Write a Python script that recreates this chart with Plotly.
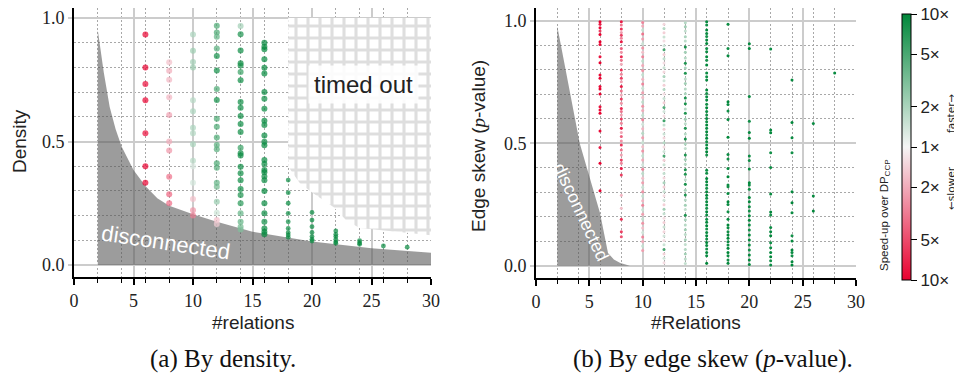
import math
import plotly.graph_objects as go

W, H = 962, 380
OFF = 8                      # page body margin of the browser
FW, FH = W - OFF, H - OFF    # figure size inside the page

# ---------------- data ----------------
REL_X = [6, 8, 10, 12, 14, 16, 18, 20, 22, 24, 26, 28]

# (a) density per #relations column
a_density = {
    6: [0.933, 0.800, 0.733, 0.667, 0.533, 0.400, 0.333],
    8: [0.821, 0.786, 0.750, 0.679, 0.607, 0.500, 0.464, 0.357, 0.286, 0.250],
    10: [0.933, 0.867, 0.822, 0.800, 0.667, 0.622, 0.556, 0.533, 0.489, 0.422,
         0.400, 0.333, 0.267, 0.222, 0.200],
    12: [0.969, 0.941, 0.924, 0.877, 0.846, 0.787, 0.713, 0.668, 0.592, 0.560,
         0.516, 0.486, 0.469, 0.412, 0.394, 0.333, 0.317, 0.256, 0.212, 0.182,
         0.166],
    14: [0.968, 0.934, 0.868, 0.817, 0.808, 0.781, 0.748, 0.660, 0.637, 0.603,
         0.571, 0.538, 0.475, 0.452, 0.443, 0.398, 0.371, 0.343, 0.308, 0.283,
         0.250, 0.209, 0.175, 0.155, 0.144],
    16: [0.900, 0.884, 0.873, 0.833, 0.799, 0.775, 0.700, 0.673, 0.633, 0.584,
         0.567, 0.524, 0.499, 0.485, 0.425, 0.409, 0.385, 0.375, 0.358, 0.343,
         0.300, 0.250, 0.209, 0.175, 0.148, 0.135, 0.124],
    18: [0.344, 0.293, 0.250, 0.209, 0.175, 0.148, 0.131, 0.121, 0.112],
    20: [0.213, 0.182, 0.155, 0.132, 0.115, 0.104, 0.097],
    22: [0.138, 0.124, 0.115, 0.104, 0.094, 0.088],
    24: [0.099, 0.090, 0.084],
    26: [0.077],
    28: [0.072],
}
# speed-up over DP_CCP (factor, <1 = slower)
a_speedup = {
    6: [0.10, 0.10, 0.11, 0.10, 0.11, 0.10, 0.10],
    8: [0.60, 0.50, 0.55, 0.55, 0.45, 0.50, 0.40, 0.28, 0.25, 0.27],
    10: [2.0, 2.3, 2.2, 2.3, 1.8, 2.0, 2.0, 1.9, 2.1, 1.8,
         1.3, 1.4, 0.6, 0.4, 0.33],
    12: [5.0, 5.0, 4.0, 4.5, 8.5, 8.5, 5.0, 8.5, 5.0, 5.0,
         5.0, 4.5, 4.5, 5.0, 4.5, 4.0, 3.5, 2.5, 1.5, 0.6, 0.7],
    14: [2.2, 8.0, 9.0, 9.0, 8.0, 6.0, 9.0, 9.0, 9.0, 9.0,
         9.0, 9.0, 6.0, 9.0, 9.0, 9.0, 9.0, 9.0, 9.0, 8.0,
         7.0, 4.0, 4.0, 3.5, 3.0],
    16: [9.5, 9.0, 10.0, 9.5, 9.5, 10.0, 9.5, 9.0, 9.5, 10.0,
         9.5, 9.5, 9.0, 10.0, 9.5, 9.5, 10.0, 9.5, 9.0, 9.5,
         10.0, 9.5, 9.5, 9.0, 10.0, 9.5, 9.5],
    18: [9.0, 9.5, 10.0, 9.5, 9.0, 9.5, 10.0, 9.5, 9.5],
    20: [9.5, 10.0, 9.5, 9.5, 10.0, 9.5, 9.0],
    22: [9.5, 9.5, 10.0, 9.5, 9.5, 10.0],
    24: [9.5, 9.5, 10.0],
    26: [9.5],
    28: [9.5],
}

# (b) edge skew p-value per #relations column
b_pvalue = {
    6: [0.996, 0.985, 0.971, 0.958, 0.944, 0.914, 0.903, 0.853, 0.828, 0.778,
        0.765, 0.731, 0.721, 0.701, 0.649, 0.635, 0.622, 0.550, 0.482, 0.418,
        0.306],
    8: [0.996, 0.982, 0.966, 0.952, 0.941, 0.928, 0.914, 0.887, 0.871, 0.853,
        0.839, 0.822, 0.799, 0.781, 0.765, 0.751, 0.731, 0.713, 0.697, 0.680,
        0.663, 0.642, 0.629, 0.615, 0.599, 0.581, 0.561, 0.544, 0.527, 0.509,
        0.493, 0.472, 0.452, 0.431, 0.418, 0.397, 0.370, 0.288, 0.234, 0.190,
        0.139, 0.118],
    10: [0.993, 0.978, 0.962, 0.946, 0.925, 0.906, 0.889, 0.871, 0.853, 0.835,
         0.817, 0.797, 0.779, 0.761, 0.742, 0.724, 0.706, 0.687, 0.668, 0.651,
         0.633, 0.614, 0.596, 0.577, 0.559, 0.541, 0.522, 0.503, 0.486, 0.468,
         0.449, 0.431, 0.412, 0.394, 0.376, 0.357, 0.339, 0.320, 0.302, 0.284,
         0.265, 0.247, 0.228, 0.210, 0.191, 0.173, 0.154, 0.136, 0.117, 0.099,
         0.080, 0.062],
    12: [0.985, 0.968, 0.951, 0.933, 0.917, 0.898, 0.881, 0.862, 0.845, 0.827,
         0.808, 0.791, 0.772, 0.755, 0.737, 0.719, 0.701, 0.682, 0.665, 0.646,
         0.629, 0.611, 0.592, 0.574, 0.557, 0.538, 0.521, 0.502, 0.484, 0.466,
         0.448, 0.430, 0.412, 0.393, 0.376, 0.358, 0.339, 0.321, 0.303, 0.285,
         0.267, 0.249, 0.230, 0.212, 0.194, 0.176, 0.158, 0.139, 0.121, 0.103,
         0.085, 0.066, 0.048, 0.030, 0.012],
    14: [0.992, 0.975, 0.958, 0.934, 0.917, 0.893, 0.871, 0.848, 0.826, 0.807,
         0.785, 0.762, 0.744, 0.721, 0.702, 0.684, 0.661, 0.640, 0.622, 0.598,
         0.579, 0.561, 0.538, 0.517, 0.497, 0.478, 0.452, 0.433, 0.414, 0.392,
         0.373, 0.351, 0.332, 0.308, 0.289, 0.268, 0.247, 0.229, 0.206, 0.188,
         0.166, 0.147, 0.127, 0.106, 0.087, 0.066, 0.048, 0.027, 0.009],
    16: [0.996, 0.982, 0.962, 0.948, 0.935, 0.921, 0.907, 0.887, 0.873, 0.853,
         0.839, 0.819, 0.786, 0.771, 0.758, 0.717, 0.703, 0.690, 0.676, 0.659,
         0.645, 0.629, 0.615, 0.601, 0.588, 0.574, 0.561, 0.547, 0.533, 0.520,
         0.506, 0.493, 0.479, 0.465, 0.452, 0.390, 0.377, 0.356, 0.343, 0.329,
         0.316, 0.302, 0.288, 0.275, 0.261, 0.248, 0.234, 0.220, 0.207, 0.190,
         0.177, 0.163, 0.150, 0.136, 0.122, 0.109, 0.095, 0.082, 0.068, 0.054,
         0.041, 0.010],
    18: [0.985, 0.887, 0.857, 0.669, 0.658, 0.631, 0.597, 0.524, 0.454, 0.435,
         0.397, 0.363, 0.329, 0.322, 0.295, 0.261, 0.250, 0.220, 0.190, 0.166,
         0.155, 0.139, 0.125, 0.112, 0.098, 0.084, 0.071, 0.054, 0.041, 0.023,
         0.010],
    20: [0.906, 0.887, 0.691, 0.590, 0.544, 0.520, 0.448, 0.429, 0.395, 0.339,
         0.329, 0.312, 0.278, 0.261, 0.241, 0.223, 0.204, 0.186, 0.166, 0.146,
         0.125, 0.105, 0.084, 0.064, 0.044, 0.023, 0.005],
    22: [0.884, 0.554, 0.543, 0.461, 0.401, 0.293, 0.219, 0.207, 0.156, 0.139,
         0.122, 0.094, 0.073, 0.054, 0.037, 0.020, 0.003],
    24: [0.758, 0.584, 0.522, 0.461, 0.302, 0.257, 0.216, 0.122, 0.101, 0.064,
         0.054, 0.041, 0.016, 0.003],
    26: [0.580, 0.284, 0.223],
    28: [0.786],
}
b_speedup = {
    6: [0.10, 0.13, 0.11, 0.18, 0.10, 0.10, 0.11, 0.12, 0.10, 0.11,
        0.10, 0.11, 0.10, 0.10, 0.12, 0.11, 0.10, 0.11, 0.13, 0.10,
        0.10],
    8: [0.13, 0.30, 0.16, 0.45, 0.18, 0.35, 0.13, 0.25, 0.40, 0.15,
        0.30, 0.50, 0.16, 0.35, 0.18, 0.45, 0.13, 0.30, 0.50, 0.18,
        0.40, 0.15, 0.30, 0.45, 0.18, 0.35, 0.13, 0.50, 0.25, 0.40,
        0.16, 0.30, 0.45, 0.18, 0.35, 0.13, 0.18, 0.55, 0.60, 0.16,
        0.18, 0.22],
    10: [0.35, 0.50, 1.6, 0.30, 0.45, 1.5, 0.40, 0.60, 0.35, 1.7,
         0.50, 0.40, 1.6, 0.55, 0.35, 1.5, 0.45, 0.60, 1.7, 0.40,
         0.50, 1.6, 0.35, 1.4, 0.55, 1.8, 0.45, 1.5, 0.60, 0.40,
         1.6, 0.50, 1.4, 0.35, 1.7, 0.60, 0.45, 1.5, 0.40, 1.6,
         0.55, 0.35, 1.5, 0.45, 1.6, 0.40, 0.60, 1.4, 0.35, 0.50,
         1.6, 0.45],
    12: [0.75, 1.8, 0.70, 1.5, 0.80, 1.4, 5.0, 0.70, 1.6, 0.80,
         1.5, 0.75, 2.0, 1.4, 0.70, 1.8, 0.80, 1.5, 0.70, 4.5,
         1.4, 0.80, 5.5, 1.6, 0.70, 1.5, 0.75, 1.8, 0.80, 1.4,
         5.0, 0.70, 1.5, 0.80, 1.6, 0.75, 2.0, 0.70, 1.5, 0.80,
         1.4, 0.70, 2.2, 1.6, 0.80, 0.70, 1.5, 0.75, 1.4, 0.80,
         1.5, 5.0, 0.70, 1.4, 0.80],
    14: [1.8, 2.2, 1.6, 2.0, 1.7, 8.0, 2.2, 1.8, 7.5, 2.0,
         7.5, 1.7, 2.2, 1.8, 2.0, 7.5, 8.0, 1.8, 7.5, 2.2,
         1.7, 7.5, 1.8, 8.0, 2.0, 1.6, 7.5, 2.2, 1.8, 7.5,
         7.5, 1.7, 8.0, 2.0, 7.5, 1.8, 2.2, 1.6, 7.5, 2.0,
         1.8, 2.2, 1.7, 2.0, 1.6, 1.8, 2.2, 1.7, 1.6],
    16: [9.5, 8.5, 10.0, 9.0, 8.0, 9.5, 10.0, 8.5, 9.0, 9.5,
         8.0, 10.0, 9.0, 8.5, 9.5, 10.0, 8.0, 9.0, 9.5, 8.5,
         10.0, 9.0, 8.0, 9.5, 8.5, 10.0, 9.0, 9.5, 8.0, 10.0,
         8.5, 9.0, 9.5, 10.0, 8.0, 9.0, 8.5, 10.0, 9.5, 9.0,
         8.0, 9.5, 10.0, 8.5, 9.0, 9.5, 8.0, 10.0, 9.0, 8.5,
         9.5, 10.0, 8.0, 9.0, 9.5, 8.5, 10.0, 9.0, 8.0, 9.5,
         9.0, 10.0],
    18: [9.0, 8.5, 9.5, 10.0, 9.0, 8.5, 9.5, 10.0, 9.0, 8.5,
         9.5, 10.0, 9.0, 8.5, 9.5, 10.0, 9.0, 8.5, 9.5, 10.0,
         9.0, 8.5, 9.5, 10.0, 9.0, 8.5, 9.5, 10.0, 9.0, 8.5,
         9.5],
    20: [9.5, 10.0, 9.0, 8.5, 9.5, 10.0, 9.0, 8.5, 9.5, 10.0,
         9.0, 8.5, 9.5, 10.0, 9.0, 8.5, 9.5, 10.0, 9.0, 8.5,
         9.5, 10.0, 9.0, 8.5, 9.5, 10.0, 9.0],
    22: [9.0, 9.5, 10.0, 8.5, 9.0, 9.5, 10.0, 8.5, 9.0, 9.5,
         10.0, 8.5, 9.0, 9.5, 10.0, 8.5, 9.0],
    24: [9.5, 10.0, 9.0, 8.5, 9.5, 10.0, 9.0, 8.5, 9.5, 10.0,
         9.0, 8.5, 9.5, 10.0],
    26: [9.0, 9.5, 10.0],
    28: [9.5],
}

# region boundaries
disc_a_x = [2, 2, 2.5, 3, 3.5, 4, 5, 6, 7, 8, 10, 12, 15, 20, 25, 30, 30]
disc_a_y = [0, 0.95, 0.78, 0.64, 0.55, 0.48, 0.385, 0.32, 0.27, 0.24, 0.205,
            0.175, 0.135, 0.095, 0.068, 0.05, 0]
disc_b_x = [2, 2, 4.1, 6.0, 6.75, 7.3, 7.9, 8.8]
disc_b_y = [0, 0.976, 0.50, 0.215, 0.052, 0.025, 0.011, 0]
tout_x = [18, 30, 30, 24, 22.9, 21.8, 20.1, 19, 18.4, 18]
tout_y = [1.0, 1.0, 0.12, 0.15, 0.18, 0.235, 0.29, 0.33, 0.37, 0.40]

cbar_vals = [0.1, 0.2, 0.5, 1, 2, 5, 10]
cbar_text = ["10×", "5×", "2×", "1×", "2×", "5×", "10×"]

# ---------------- figure ----------------
SANS = "Liberation Sans"
SERIF = "Liberation Serif"


def px(x):
    """page pixel x -> paper fraction"""
    return (x - OFF) / FW


def py(y):
    """page pixel y -> paper fraction"""
    return min(1.0, max(0.0, 1 - (y - OFF) / FH))


fig = go.Figure()

fig.add_trace(go.Scatter(x=disc_a_x, y=disc_a_y, mode="lines", fill="toself",
                         fillcolor="rgba(85,85,85,0.58)", line=dict(width=0),
                         hoverinfo="skip", showlegend=False, xaxis="x", yaxis="y"))
fig.add_trace(go.Scatter(x=tout_x, y=tout_y, mode="lines", fill="toself",
                         fillcolor="white",
                         fillpattern=dict(shape="+", fgcolor="#bdbdbd", bgcolor="white",
                                          size=12, solidity=0.45),
                         line=dict(width=0), hoverinfo="skip", showlegend=False,
                         xaxis="x", yaxis="y"))
fig.add_trace(go.Scatter(x=disc_b_x, y=disc_b_y, mode="lines", fill="toself",
                         fillcolor="rgba(85,85,85,0.58)", line=dict(width=0),
                         hoverinfo="skip", showlegend=False, xaxis="x2", yaxis="y2"))

ax, ay, ac, asz = [], [], [], []
for x in REL_X:
    for yv, s in zip(a_density[x], a_speedup[x]):
        ax.append(x)
        ay.append(yv)
        ac.append(math.log10(s))
        asz.append(6 if x <= 16 else 4.8)
fig.add_trace(go.Scatter(x=ax, y=ay, mode="markers",
                         marker=dict(size=asz, color=ac, coloraxis="coloraxis",
                                     line=dict(width=0)),
                         showlegend=False, xaxis="x", yaxis="y"))

bx, by, bc = [], [], []
for x in REL_X:
    for yv, s in zip(b_pvalue[x], b_speedup[x]):
        bx.append(x)
        by.append(yv)
        bc.append(math.log10(s))
fig.add_trace(go.Scatter(x=bx, y=by, mode="markers",
                         marker=dict(size=3.0, color=bc, coloraxis="coloraxis",
                                     line=dict(width=0)),
                         showlegend=False, xaxis="x2", yaxis="y2"))


def xaxis(domain, anchor):
    return dict(domain=domain, anchor=anchor, range=[0, 30], automargin=False,
                tickmode="array", tickvals=[0, 5, 10, 15, 20, 25, 30],
                ticks="outside", ticklen=6, tickwidth=1.5, tickcolor="black",
                showline=True, linecolor="black", linewidth=2,
                showgrid=True, gridcolor="#cccccc", gridwidth=1.5, zeroline=False,
                tickfont=dict(family=SERIF, size=18, color="#222"),
                minor=dict(tickmode="array",
                           tickvals=[2, 4, 6, 8, 12, 14, 16, 18, 22, 24, 26, 28],
                           ticks="outside", ticklen=4, tickcolor="black", tickwidth=1,
                           showgrid=True, gridcolor="#a8a8a8", griddash="2px,2px",
                           gridwidth=1),
                fixedrange=True)


def yaxis(domain, anchor, rng):
    return dict(domain=domain, anchor=anchor, range=rng, automargin=False,
                tickmode="array", tickvals=[0, 0.5, 1.0], ticktext=["0.0", "0.5", "1.0"],
                ticks="outside", ticklen=4, tickcolor="#cccccc", tickwidth=1.5,
                showline=True, linecolor="black", linewidth=2,
                showgrid=True, gridcolor="#cccccc", gridwidth=1.5, zeroline=False,
                tickfont=dict(family=SERIF, size=18, color="#222"),
                minor=dict(tickmode="array",
                           tickvals=[0.1, 0.2, 0.3, 0.4, 0.6, 0.7, 0.8, 0.9],
                           ticks="", showgrid=True, gridcolor="#a8a8a8",
                           griddash="2px,2px", gridwidth=1),
                fixedrange=True)


def note(text, x, y, size, family=SANS, angle=0, color="#222", **kw):
    return dict(text=text, x=px(x), y=py(y), xref="paper", yref="paper",
                xanchor="center", yanchor="middle",
                showarrow=False, textangle=angle,
                font=dict(family=family, size=size, color=color), **kw)


annotations = [
    note("timed out", 363, 84, 24, bgcolor="rgba(255,255,255,0.88)", borderpad=5),
    note("disconnected", 166, 242, 22, angle=8.6, color="white"),
    note("disconnected", 581, 212, 18, angle=64.6, color="white"),
    note("#relations", 252.5, 322, 19),
    note("#Relations", 696, 322, 19),
    note("Density", 19, 141, 19, angle=-90),
    note("Edge skew (<span style=\"font-family:'Liberation Serif'\"><i>p</i></span>-value)",
         478, 146, 19, angle=-90),
    note("(a) By density.", 223, 359, 25, family=SERIF, color="#111"),
    note("(b) By edge skew (<i>p</i>-value).", 713, 359, 25, family=SERIF, color="#111"),
    note("Speed-up over DP<sub>CCP</sub>", 885, 215, 11.5, angle=-90),
    note("faster\u2192", 951, 114, 10.5, family="DejaVu Sans", angle=-90),
    note("\u2190slower", 951, 188, 10.5, family="DejaVu Sans", angle=-90),
]

fig.update_layout(
    width=FW, height=FH, autosize=False,
    margin=dict(l=0, r=0, t=0, b=0, autoexpand=False),
    paper_bgcolor="white", plot_bgcolor="white",
    font=dict(family=SANS, color="#222"),
    showlegend=False,
    xaxis=xaxis([px(74), px(431)], "y"),
    yaxis=yaxis([py(277), py(8)], "x", [-0.0486, 1.0405]),
    xaxis2=xaxis([px(536), px(856)], "y2"),
    yaxis2=yaxis([py(278), py(8)], "x2", [-0.0502, 1.0518]),
    coloraxis=dict(
        colorscale=[[0, "#e8002f"], [0.5, "#f5f5f5"], [1, "#00873a"]],
        cmin=-1, cmax=1,
        colorbar=dict(x=px(902), xanchor="left", y=py(147), yanchor="middle",
                      len=266, lenmode="pixels", thickness=9, thicknessmode="pixels",
                      xpad=0, ypad=0, outlinewidth=1, outlinecolor="black",
                      ticks="outside", ticklen=6, tickcolor="black", tickwidth=1,
                      ticklabeloverflow="allow",
                      tickmode="array",
                      tickvals=[math.log10(v) for v in cbar_vals], ticktext=cbar_text,
                      tickfont=dict(family=SANS, size=17, color="#222")),
    ),
    annotations=annotations,
)

fig.write_html("out.html")
